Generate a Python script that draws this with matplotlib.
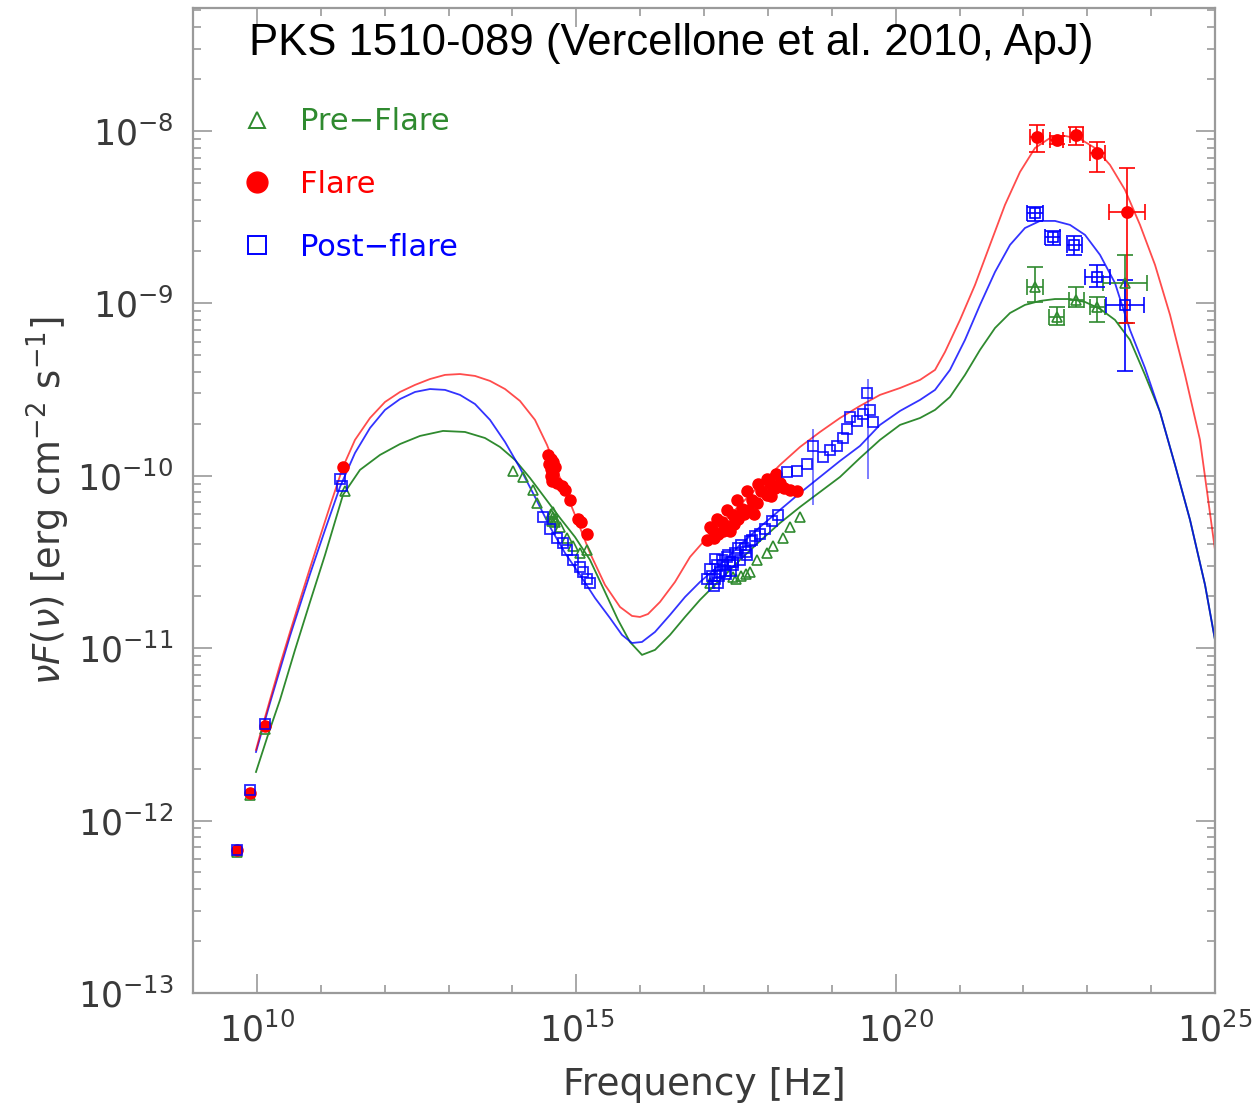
import matplotlib
matplotlib.use("Agg")
import matplotlib.pyplot as plt
import numpy as np
from matplotlib.lines import Line2D
from matplotlib.ticker import FixedLocator, NullFormatter, LogFormatterSciNotation

# --- model curves (log10 nu, log10 nuFnu) ---
flare_model_lognu = [9.986, 10.080, 10.205, 10.362, 10.519, 10.675, 10.832, 10.988, 11.145, 11.348,
                     11.536, 11.771, 12.006, 12.241, 12.476, 12.710, 12.945, 13.180, 13.415, 13.650,
                     13.885, 14.119, 14.354, 14.542, 14.746, 14.980, 15.215, 15.450, 15.685, 15.873,
                     15.998, 16.123, 16.311, 16.546, 16.781, 17.016, 17.250, 17.564, 17.877, 18.190,
                     18.503, 18.816, 19.129, 19.442, 19.755, 20.069, 20.382, 20.617, 20.773, 21.008,
                     21.243, 21.477, 21.712, 21.947, 22.182, 22.417, 22.652, 22.886, 23.121, 23.356,
                     23.591, 23.826, 24.061, 24.296, 24.531, 24.765, 25.000]
flare_model_logf = [-11.590, -11.463, -11.300, -11.097, -10.906, -10.720, -10.535, -10.355, -10.175, -9.949,
                    -9.792, -9.665, -9.572, -9.514, -9.473, -9.439, -9.415, -9.410, -9.421, -9.450,
                    -9.497, -9.566, -9.676, -9.821, -10.013, -10.227, -10.448, -10.633, -10.761, -10.813,
                    -10.819, -10.802, -10.732, -10.616, -10.471, -10.372, -10.285, -10.169, -10.053, -9.937,
                    -9.833, -9.746, -9.665, -9.595, -9.531, -9.491, -9.444, -9.386, -9.282, -9.096,
                    -8.893, -8.661, -8.429, -8.238, -8.099, -8.041, -8.029, -8.046, -8.099, -8.197,
                    -8.342, -8.545, -8.777, -9.067, -9.415, -9.792, -10.430]

post_model_lognu = [9.986, 10.205, 10.519, 10.832, 11.067, 11.301, 11.536, 11.771, 12.006, 12.241,
                    12.476, 12.710, 12.945, 13.180, 13.415, 13.650, 13.885, 14.119, 14.354, 14.589,
                    14.824, 15.059, 15.294, 15.528, 15.716, 15.873, 16.029, 16.233, 16.468, 16.703,
                    16.937, 17.250, 17.564, 17.877, 18.190, 18.503, 18.816, 19.129, 19.442, 19.755,
                    20.069, 20.382, 20.617, 20.851, 21.086, 21.321, 21.556, 21.791, 22.025, 22.260,
                    22.495, 22.730, 22.965, 23.200, 23.434, 23.669, 23.904, 24.139, 24.374, 24.609,
                    24.844, 25.000]
post_model_logf = [-11.602, -11.318, -10.929, -10.570, -10.314, -10.065, -9.868, -9.723, -9.618, -9.555,
                   -9.514, -9.497, -9.502, -9.531, -9.584, -9.676, -9.804, -9.955, -10.123, -10.297,
                   -10.448, -10.575, -10.709, -10.825, -10.923, -10.970, -10.964, -10.906, -10.807, -10.703,
                   -10.616, -10.517, -10.401, -10.297, -10.198, -10.100, -10.007, -9.914, -9.827, -9.705,
                   -9.624, -9.560, -9.502, -9.386, -9.212, -9.009, -8.818, -8.661, -8.563, -8.522,
                   -8.522, -8.545, -8.603, -8.719, -8.882, -9.154, -9.375, -9.630, -9.937, -10.256,
                   -10.633, -10.952]

pre_model_lognu = [9.986, 10.174, 10.362, 10.597, 10.832, 11.067, 11.348, 11.614, 11.928, 12.241,
                   12.554, 12.914, 13.258, 13.571, 13.806, 14.041, 14.276, 14.511, 14.746, 14.980,
                   15.215, 15.450, 15.654, 15.841, 16.029, 16.233, 16.468, 16.703, 16.937, 17.250,
                   17.564, 17.877, 18.190, 18.503, 18.816, 19.129, 19.442, 19.755, 20.069, 20.382,
                   20.617, 20.851, 21.086, 21.321, 21.556, 21.791, 22.025, 22.260, 22.495, 22.730,
                   22.965, 23.200, 23.434, 23.669, 23.904, 24.139, 24.374, 24.609, 24.844, 25.000]
pre_model_logf = [-11.718, -11.503, -11.300, -11.010, -10.732, -10.459, -10.111, -9.966, -9.879, -9.816,
                  -9.769, -9.740, -9.746, -9.781, -9.833, -9.908, -10.013, -10.129, -10.245, -10.355,
                  -10.488, -10.674, -10.836, -10.964, -11.039, -11.010, -10.923, -10.819, -10.720, -10.604,
                  -10.488, -10.378, -10.274, -10.181, -10.094, -10.007, -9.897, -9.792, -9.705, -9.665,
                  -9.618, -9.543, -9.415, -9.270, -9.143, -9.056, -9.009, -8.986, -8.975, -8.975,
                  -8.992, -9.032, -9.096, -9.212, -9.415, -9.630, -9.937, -10.256, -10.633, -10.952]

# --- Flare data (red filled circles) ---
flare_lognu = [9.69, 9.89, 10.13, 11.35,
               14.56, 14.60, 14.63, 14.61, 14.64, 14.62, 14.70, 14.77, 14.82, 14.90, 15.03, 15.08, 15.17,
               14.58, 14.66, 14.60,
               17.04, 17.12, 17.22, 17.28, 17.37, 17.45, 17.53, 17.59, 17.69, 17.75, 17.83, 17.90,
               17.98, 18.03, 18.11, 18.19, 18.26, 18.34, 18.45, 17.15, 17.30, 17.47, 17.62,
               17.10, 17.20, 17.36, 17.52, 17.68, 17.84, 17.98, 18.12, 17.40, 17.78, 18.05]
flare_logf = [-12.17, -11.84, -11.45, -9.95,
              -9.88, -9.90, -9.92, -9.96, -9.99, -10.03, -10.04, -10.06, -10.08, -10.14, -10.25, -10.27, -10.34,
              -9.93, -9.95, -10.00,
              -10.37, -10.31, -10.34, -10.27, -10.29, -10.23, -10.25, -10.19, -10.20, -10.14, -10.16, -10.09,
              -10.11, -10.05, -10.07, -10.04, -10.07, -10.08, -10.09, -10.36, -10.32, -10.28, -10.22,
              -10.30, -10.25, -10.20, -10.14, -10.09, -10.05, -10.02, -9.99, -10.32, -10.22, -10.12]

flare_gam_lognu = [22.21, 22.52, 22.83, 23.16, 23.62]
flare_gam_logf = [-8.035, -8.052, -8.023, -8.128, -8.470]
flare_gam_lo = [-8.122, -8.075, -8.081, -8.238, -9.114]
flare_gam_hi = [-7.965, -8.030, -7.977, -8.064, -8.215]
flare_gam_dx = [0.10, 0.10, 0.10, 0.12, 0.28]

# --- Post-flare data (blue open squares) ---
post_lognu = [9.69, 9.89, 10.13, 11.30, 11.33,
              14.48, 14.59, 14.70, 14.79, 14.85, 14.95, 15.06, 15.10, 15.17, 15.21,
              17.12, 17.20, 17.28, 17.37, 17.45, 17.53, 17.64, 17.75, 17.56, 17.33, 17.17,
              17.87, 17.95, 18.06, 18.16, 17.25, 17.40, 17.68,
              17.10, 17.18, 17.24, 17.30, 17.36, 17.42, 17.48, 17.58, 17.66, 17.72, 17.80, 17.22,
              17.34, 17.46, 17.15, 17.05,
              18.30, 18.45, 18.61, 18.70, 18.86, 18.97, 19.08, 19.17, 19.24, 19.28, 19.39,
              19.49, 19.55, 19.60, 19.64]
post_logf = [-12.17, -11.82, -11.44, -10.02, -10.06,
             -10.24, -10.31, -10.36, -10.39, -10.43, -10.49, -10.53, -10.56, -10.60, -10.62,
             -10.58, -10.52, -10.49, -10.46, -10.52, -10.42, -10.42, -10.37, -10.49, -10.55, -10.60,
             -10.34, -10.31, -10.26, -10.23, -10.56, -10.50, -10.46,
             -10.54, -10.48, -10.58, -10.52, -10.47, -10.55, -10.45, -10.40, -10.44, -10.38, -10.35, -10.62,
             -10.57, -10.50, -10.64, -10.60,
             -9.98, -9.97, -9.93, -9.83, -9.89, -9.85, -9.83, -9.78, -9.73, -9.66, -9.68,
             -9.64, -9.52, -9.62, -9.69]

post_err_lognu = [18.70, 19.56]
post_err_logf = [-9.83, -9.55]
post_err_lo = [-10.17, -10.02]
post_err_hi = [-9.73, -9.44]

post_gam_lognu = [22.18, 22.46, 22.80, 23.16, 23.59]
post_gam_logf = [-8.476, -8.615, -8.661, -8.847, -9.009]
post_gam_lo = [-8.52, -8.66, -8.72, -8.905, -9.39]
post_gam_hi = [-8.44, -8.58, -8.61, -8.777, -8.864]
post_gam_dx = [0.12, 0.12, 0.12, 0.20, 0.30]

# --- Pre-flare data (green open triangles) ---
pre_lognu = [9.69, 9.89, 10.13, 11.38,
             14.01, 14.16, 14.32, 14.38, 14.63, 14.66, 14.74, 14.85, 14.95, 15.06, 15.17,
             14.61, 14.64, 14.67, 14.62,
             17.09, 17.45, 17.72, 17.83, 17.98, 18.08, 18.23, 18.34, 18.50,
             17.50, 17.58, 17.66]
pre_logf = [-12.18, -11.85, -11.47, -10.09,
            -9.97, -10.01, -10.08, -10.16, -10.24, -10.27, -10.30, -10.36, -10.41, -10.45, -10.43,
            -10.22, -10.21, -10.25, -10.26,
            -10.62, -10.59, -10.56, -10.49, -10.45, -10.41, -10.36, -10.30, -10.24,
            -10.60, -10.58, -10.57]

pre_gam_lognu = [22.18, 22.52, 22.83, 23.16, 23.59]
pre_gam_logf = [-8.905, -9.079, -8.980, -9.021, -8.882]
pre_gam_lo = [-8.992, -9.125, -9.021, -9.108, -9.114]
pre_gam_hi = [-8.789, -9.021, -8.905, -8.963, -8.719]
pre_gam_dx = [0.12, 0.12, 0.12, 0.12, 0.34]

# tick positions (decades)
x_major_exp = [10, 15, 20, 25]
x_minor_exp = [9, 11, 12, 13, 14, 16, 17, 18, 19, 21, 22, 23, 24]
y_major_exp = [-13, -12, -11, -10, -9, -8]

GREEN = "#2f8a2f"
RED = "#ff0000"
BLUE = "#0000ff"
AXIS_GRAY = "#9a9a9a"
TEXT_GRAY = "#3a3a3a"


def lin(a):
    return 10.0 ** np.asarray(a, dtype=float)


def gamma_errorbar(ax, lognu, logf, lo, hi, dx, color, marker, filled):
    x = lin(lognu)
    y = lin(logf)
    yerr = [y - lin(lo), lin(hi) - y]
    dx = np.asarray(dx)
    xerr = [x - lin(np.asarray(lognu) - dx), lin(np.asarray(lognu) + dx) - x]
    ax.errorbar(x, y, yerr=yerr, xerr=xerr, fmt="none", ecolor=color, elinewidth=1.2,
                capsize=6, capthick=1.2, zorder=3)
    ax.plot(x, y, ls="none", marker=marker, ms=8 if filled else 7,
            mfc=color if filled else "none", mec=color, mew=1.2, zorder=4)


fig = plt.figure(figsize=(12.53, 11.04), dpi=100)
ax = fig.add_axes([193 / 1253, 111 / 1104, 1022 / 1253, 985 / 1104])
ax.set_xscale("log")
ax.set_yscale("log")

# model curves
ax.plot(lin(pre_model_lognu), lin(pre_model_logf), color=GREEN, lw=1.3, zorder=2)
ax.plot(lin(post_model_lognu), lin(post_model_logf), color=BLUE, lw=1.3, alpha=0.8, zorder=2)
ax.plot(lin(flare_model_lognu), lin(flare_model_logf), color=RED, lw=1.3, alpha=0.7, zorder=2)

# data points
ax.plot(lin(pre_lognu), lin(pre_logf), ls="none", marker="^", ms=7, mfc="none",
        mec=GREEN, mew=1.2, zorder=3)
ax.plot(lin(flare_lognu), lin(flare_logf), ls="none", marker="o", ms=8, mfc=RED,
        mec=RED, zorder=4)
ax.plot(lin(post_lognu), lin(post_logf), ls="none", marker="s", ms=7, mfc="none",
        mec=BLUE, mew=1.3, alpha=0.85, zorder=5)

pe_x = lin(post_err_lognu)
pe_y = lin(post_err_logf)
ax.errorbar(pe_x, pe_y, yerr=[pe_y - lin(post_err_lo), lin(post_err_hi) - pe_y],
            fmt="none", ecolor=BLUE, elinewidth=1.2, alpha=0.6, zorder=3)

gamma_errorbar(ax, pre_gam_lognu, pre_gam_logf, pre_gam_lo, pre_gam_hi, pre_gam_dx,
               GREEN, "^", False)
gamma_errorbar(ax, post_gam_lognu, post_gam_logf, post_gam_lo, post_gam_hi, post_gam_dx,
               BLUE, "s", False)
gamma_errorbar(ax, flare_gam_lognu, flare_gam_logf, flare_gam_lo, flare_gam_hi, flare_gam_dx,
               RED, "o", True)

# axes
ax.set_xlim(1e9, 1e25)
ax.set_ylim(1e-13, 10 ** -7.287)
ax.xaxis.set_major_locator(FixedLocator(lin(x_major_exp)))
ax.xaxis.set_minor_locator(FixedLocator(lin(x_minor_exp)))
ax.xaxis.set_major_formatter(LogFormatterSciNotation())
ax.xaxis.set_minor_formatter(NullFormatter())
ax.yaxis.set_major_locator(FixedLocator(lin(y_major_exp)))
y_minor = [m * 10.0 ** e for e in range(-13, -7) for m in range(2, 10) if m * 10.0 ** e < 10 ** -7.287]
ax.yaxis.set_minor_locator(FixedLocator(y_minor))
ax.yaxis.set_major_formatter(LogFormatterSciNotation())
ax.yaxis.set_minor_formatter(NullFormatter())

for sp in ax.spines.values():
    sp.set_color(AXIS_GRAY)
    sp.set_linewidth(1.6)
ax.tick_params(which="both", direction="in", top=True, right=True, color=AXIS_GRAY,
               labelcolor=TEXT_GRAY, labelsize=25, width=1.2)
ax.tick_params(which="major", length=14, pad=14)
ax.tick_params(which="minor", length=6)

ax.set_xlabel("Frequency [Hz]", fontsize=27, color=TEXT_GRAY, labelpad=13)
ax.set_ylabel(r"$\nu F(\nu)$ [erg cm$^{-2}$ s$^{-1}$]", fontsize=26.5, color=TEXT_GRAY,
              labelpad=4)

# legend
handles = [
    Line2D([], [], ls="none", marker="^", ms=12, mfc="none", mec=GREEN, mew=1.4),
    Line2D([], [], ls="none", marker="o", ms=15, mfc=RED, mec=RED),
    Line2D([], [], ls="none", marker="s", ms=13, mfc="none", mec=BLUE, mew=1.4),
]
leg = ax.legend(handles, ["Pre\u2212Flare", "Flare", "Post\u2212flare"], loc="upper left",
                bbox_to_anchor=(0.0477, 0.899), frameon=False, fontsize=22, handlelength=1.0,
                handletextpad=0.9, labelspacing=1.1, borderpad=0, borderaxespad=0)
for txt, c in zip(leg.get_texts(), [GREEN, RED, BLUE]):
    txt.set_color(c)

fig.text(671 / 1253, 1 - 43 / 1104, "PKS 1510-089 (Vercellone et al. 2010, ApJ)",
         ha="center", va="center", fontsize=31.5, family="Liberation Sans", color="black")

fig.savefig("out.png", dpi=100)
